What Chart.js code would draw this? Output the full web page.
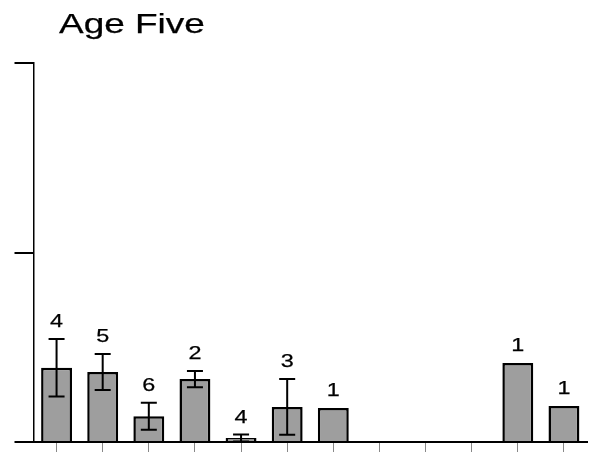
<!DOCTYPE html>
<html>
<head>
<meta charset="utf-8">
<script src="https://cdn.jsdelivr.net/npm/chart.js@4"></script>
<style>
  html, body { margin: 0; padding: 0; background: #fff; }
  #wrap { width: 605px; height: 465px; }
</style>
</head>
<body>
<div id="wrap"><canvas id="chart" width="605" height="465"></canvas></div>
<script>
// data (y units: one tick = 1)
var titleText = 'Age Five';
var categories = ['1', '2', '3', '4', '5', '6', '7', '8', '9', '10', '11', '12'];
var means = [0.392, 0.369, 0.136, 0.332, 0.021, 0.185, 0.179, 0, 0, 0, 0.417, 0.19];
var errors = [0.152, 0.095, 0.071, 0.043, 0.018, 0.147, 0, 0, 0, 0, 0, 0];
var counts = ['4', '5', '6', '2', '4', '3', '1', '', '', '', '1', '1'];
var yTicks = [0, 1, 2];

// draws stretched text like the scanned original
function wideText(ctx, text, x, y, size, stretch, align) {
    ctx.save();
    ctx.font = size + 'px "Liberation Sans", Arial, sans-serif';
    ctx.fillStyle = '#000';
    ctx.strokeStyle = '#000';
    ctx.lineWidth = 0.25;
    ctx.textBaseline = 'alphabetic';
    var w = ctx.measureText(text).width * stretch;
    var left = align == 'center' ? x - w / 2 : x;
    ctx.translate(left, y);
    ctx.scale(stretch, 1);
    ctx.textAlign = 'left';
    ctx.fillText(text, 0, 0);
    ctx.strokeText(text, 0, 0);
    ctx.restore();
}

var extras = {
    id: 'extras',
    afterDatasetsDraw: function (chart) {
        var ctx = chart.ctx;
        var x = chart.scales.x;
        var y = chart.scales.y;
        var i;
        ctx.save();
        ctx.strokeStyle = '#000';
        ctx.lineWidth = 2;
        for (i = 0; i < means.length; i++) {
            var cx = x.getPixelForValue(i);
            var top = y.getPixelForValue(means[i]);
            if (errors[i] > 0) {
                var hi = y.getPixelForValue(means[i] + errors[i]);
                var lo = y.getPixelForValue(Math.max(0, means[i] - errors[i]));
                ctx.beginPath();
                ctx.moveTo(cx, hi); ctx.lineTo(cx, lo);
                ctx.moveTo(cx - 8, hi); ctx.lineTo(cx + 8, hi);
                ctx.moveTo(cx - 8, lo); ctx.lineTo(cx + 8, lo);
                ctx.stroke();
                top = hi;
            }
            if (counts[i] !== '') {
                wideText(ctx, counts[i], cx, top - 12, 18, 1.3, 'center');
            }
        }
        ctx.restore();
        wideText(ctx, titleText, 59, 33, 28, 1.32, 'left');
    }
};

new Chart(document.getElementById('chart'), {
    type: 'bar',
    data: {
        labels: categories,
        datasets: [{
            data: means,
            backgroundColor: '#9e9e9e',
            borderColor: '#000',
            borderWidth: 2.5,
            categoryPercentage: 1,
            barPercentage: 0.67
        }]
    },
    options: {
        responsive: false,
        animation: false,
        devicePixelRatio: 1,
        layout: { padding: { left: 14.5, right: 18, top: 63, bottom: 13 } },
        plugins: {
            legend: { display: false },
            tooltip: { enabled: false },
            title: { display: false }
        },
        scales: {
            x: {
                offset: true,
                grid: {
                    offset: false,
                    drawOnChartArea: false,
                    tickLength: 10,
                    color: '#888',
                    lineWidth: 1
                },
                border: { display: true, color: '#000', width: 2 },
                ticks: { display: false }
            },
            y: {
                min: 0,
                max: 2,
                afterBuildTicks: function (axis) {
                    axis.ticks = yTicks.map(function (v) { return { value: v }; });
                },
                grid: {
                    drawOnChartArea: false,
                    tickLength: 19,
                    color: '#000',
                    lineWidth: 2
                },
                border: { display: true, color: '#000', width: 1.5 },
                ticks: { display: false }
            }
        }
    },
    plugins: [extras]
});
</script>
</body>
</html>
